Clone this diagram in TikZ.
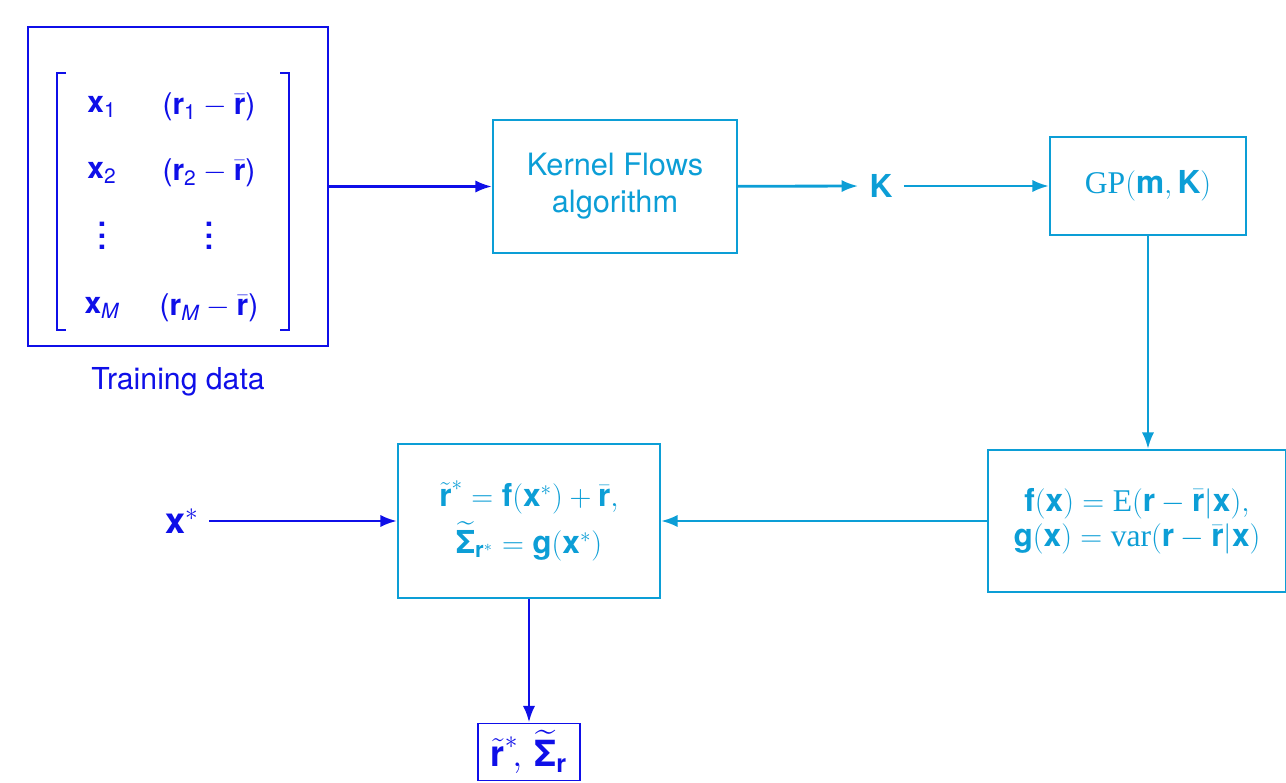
\documentclass[tikz,border=0pt]{standalone}
\usepackage{amsmath}
\usepackage{fontspec}
\setsansfont{TeX Gyre Heros}
\newfontfamily\tms{Liberation Serif}
\usetikzlibrary{arrows.meta}
\definecolor{dblue}{RGB}{15,15,232}
\definecolor{kcyan}{RGB}{12,158,214}
% bold sans vectors, upright sans indices and sans parentheses
\newcommand\bv[1]{\text{\sffamily\bfseries #1}}
\newcommand\sfi[1]{\text{\sffamily #1}}
\newcommand\sfp[1]{\text{\sffamily #1}}
\newcommand\rmop[1]{\text{\tms #1}}
% vertical dots set in bold sans
\newcommand\bdots{\hbox{\sffamily\bfseries\vbox{\baselineskip6.6pt\lineskiplimit0pt\hbox{.}\hbox{.}\hbox{.}}}}
\tikzset{
  every node/.style={font=\fontsize{18}{22}\selectfont},
  bluebox/.style={draw=dblue, line width=1.1pt, text=dblue},
  cyanbox/.style={draw=kcyan, line width=1.1pt, text=kcyan, align=center},
  bluearrow/.style={draw=dblue, line width=1.6pt, -{Latex[length=9.5pt,width=7pt]}},
  cyanarrow/.style={draw=kcyan, line width=1.6pt, -{Latex[length=9.5pt,width=7pt]}},
  entry/.style={text=dblue, inner sep=0pt, font=\fontsize{17}{20}\selectfont},
}
\begin{document}
\begin{tikzpicture}[x=0.02cm, y=-0.02cm]
\useasboundingbox (0,0) rectangle (1286,783);

% training data box with bracketed matrix
\node[bluebox, minimum width=6cm, minimum height=6.38cm] (train) at (178,186.5) {};
\draw[dblue, line width=1.5pt] (66,73) -- (57,73) -- (57,330) -- (66,330);
\draw[dblue, line width=1.5pt] (280,73) -- (289,73) -- (289,330) -- (280,330);
\node[entry] (m11) at (102,107) {$\bv{x}_{\sfi{1}}$};
\node[entry] (m12) at (209,107) {$\sfp{(}\bv{r}_{\sfi{1}} - \bar{\bv{r}}\sfp{)}$};
\node[entry] (m21) at (102,173) {$\bv{x}_{\sfi{2}}$};
\node[entry] (m22) at (209,173) {$\sfp{(}\bv{r}_{\sfi{2}} - \bar{\bv{r}}\sfp{)}$};
\node[entry] (m31) at (102,236) {\bdots};
\node[entry] (m32) at (209,236) {\bdots};
\node[entry] (m41) at (102,308) {$\bv{x}_{\sfi{\itshape M}}$};
\node[entry] (m42) at (209,308) {$\sfp{(}\bv{r}_{\sfi{\itshape M}} - \bar{\bv{r}}\sfp{)}$};
\node[text=dblue, font=\sffamily\fontsize{17.2}{20}\selectfont] (tlabel) at (178,382) {Training data};

% kernel learning and Gaussian process
\node[cyanbox, minimum width=4.88cm, minimum height=2.66cm, font=\sffamily\fontsize{17.5}{21}\selectfont] (kf) at (615,186.5) {Kernel Flows\\algorithm};
\node[text=kcyan, inner sep=0.22cm] (K) at (881,186) {$\bv{K}$};
\node[cyanbox, minimum width=3.92cm, minimum height=1.96cm] (gp) at (1148,186) {$\rmop{GP}(\bv{m},\bv{K})$};
\node[cyanbox, minimum width=5.96cm, minimum height=2.84cm] (fg) at (1137,521)
  {$\bv{f}(\bv{x}) = \rmop{E}(\bv{r} - \bar{\bv{r}}|\bv{x}),$\\[-2pt]
   $\bv{g}(\bv{x}) = \rmop{var}(\bv{r} - \bar{\bv{r}}|\bv{x})$};

% prediction
\node[cyanbox, minimum width=5.24cm, minimum height=3.08cm] (pred) at (529,521)
  {$\tilde{\bv{r}}^{*} = \bv{f}(\bv{x}^{*}) + \bar{\bv{r}},$\\[3pt]
   $\widetilde{\bv{Σ}}_{\bv{r}^{*}} = \bv{g}(\bv{x}^{*})$};
\node[text=dblue, inner sep=0.2cm, font=\fontsize{20.5}{24}\selectfont] (xs) at (182,521) {$\bv{x}^{*}$};
\node[bluebox, minimum width=2.04cm, minimum height=1.14cm, inner sep=1pt, font=\fontsize{20.5}{24}\selectfont] (out) at (529,752)
  {$\tilde{\bv{r}}^{*}\!,\,\widetilde{\bv{Σ}}_{\bv{r}}$};

% connectors
\draw[bluearrow] (train) -- (kf);
\draw[cyanarrow] (kf) -- (K);
\draw[cyanarrow] (K) -- (gp);
\draw[cyanarrow] (gp.south) -- (gp.south |- fg.north);
\draw[cyanarrow] (fg) -- (pred);
\draw[bluearrow] (xs) -- (pred);
\draw[bluearrow] (pred) -- (out);
\end{tikzpicture}
\end{document}
